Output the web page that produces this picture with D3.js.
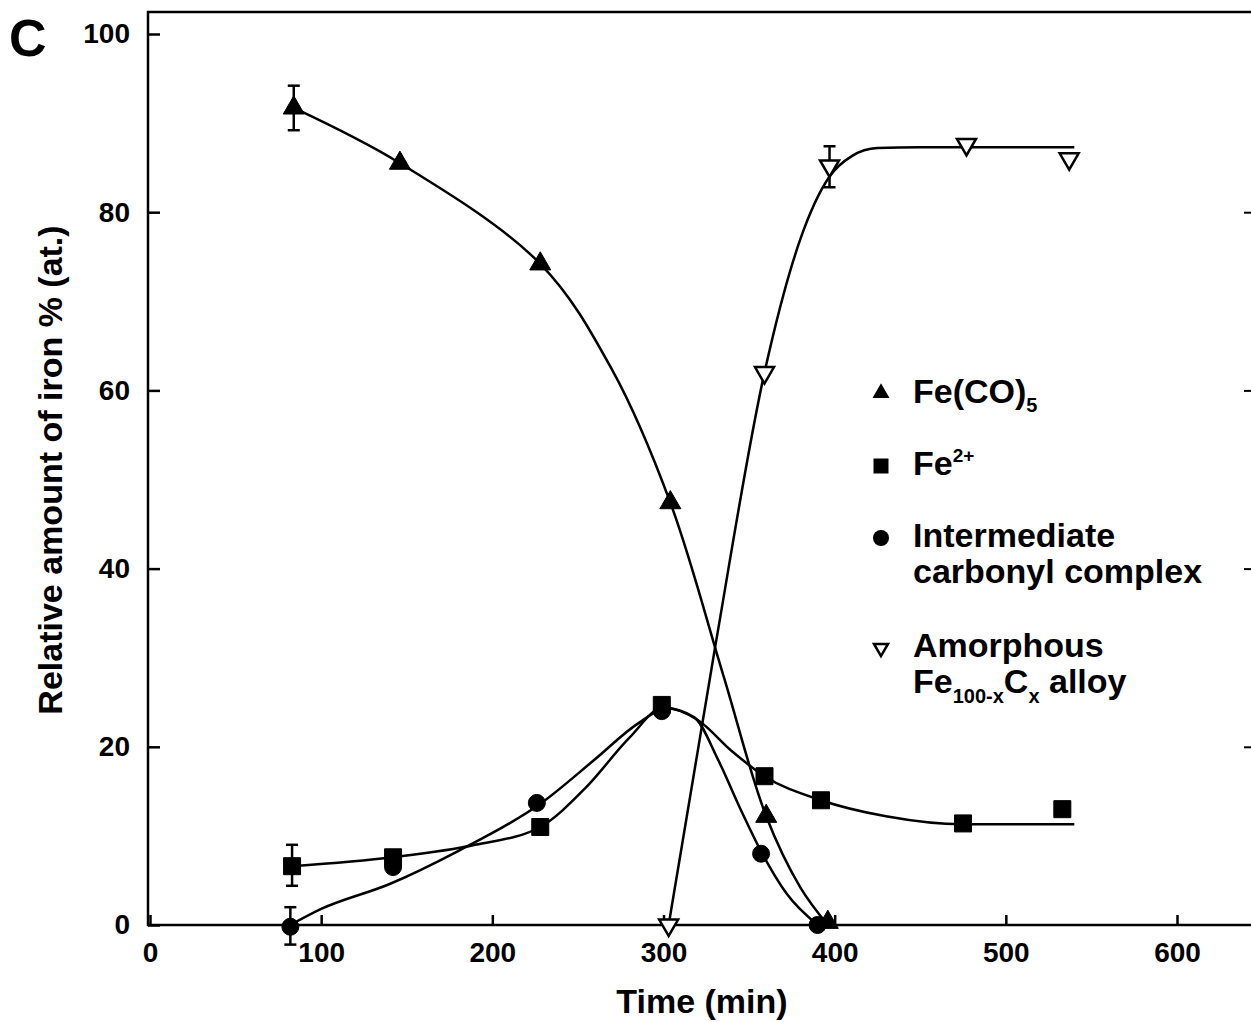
<!DOCTYPE html>
<html>
<head>
    <title>Relative amount of iron</title>
    <script type="text/javascript" src="https://cdn.jsdelivr.net/npm/d3@7"></script>
    <style>
        body { margin: 0; background: white; }
        svg text { font-family: "Liberation Sans", Arial, sans-serif; font-weight: bold; fill: black; }
    </style>
</head>
<body>
<script type="text/javascript">

    // measured points (time in min, amount in %)
    var fecoTime = [84, 146, 228, 304, 360, 396];
    var fecoVal  = [91.7, 85.5, 74.2, 47.4, 12.2, 0.3];

    var fe2Time = [83, 142, 228, 299, 359, 392, 475, 533];
    var fe2Val  = [6.6, 7.6, 11.0, 24.7, 16.7, 14.0, 11.4, 13.0];

    var interTime = [82, 142, 226, 299, 357, 390];
    var interVal  = [-0.2, 6.5, 13.7, 24.0, 8.0, 0];

    var amorTime = [303, 359, 397, 477, 537];
    var amorVal  = [0, 62, 85.2, 87.6, 86.0];

    // error bars [time, low, high]
    var errBars = [
        [84, 89.2, 94.2],
        [83, 4.4, 9.0],
        [82, -2.2, 2.0],
        [397, 82.8, 87.4]
    ];

    // fitted curves as drawn in the figure
    var fecoFitTime = [84, 146, 228, 270, 304, 335, 360, 380, 396];
    var fecoFitVal  = [91.7, 85.5, 74.2, 62.3, 47.4, 28, 12.2, 4.2, 0];

    var fe2FitTime = [83, 142, 190, 228, 255, 280, 300, 320, 340, 359, 392, 430, 475, 540];
    var fe2FitVal  = [6.6, 7.6, 9.0, 11.0, 15.5, 21, 24.4, 23, 19.5, 16.7, 14.0, 12.2, 11.3, 11.3];

    var interFitTime = [82, 100, 140, 180, 228, 260, 285, 302, 318, 332, 345, 358, 372, 390];
    var interFitVal  = [0, 1.8, 4.6, 8.3, 13.6, 18.6, 22.6, 24.3, 23.3, 18.5, 13, 7.9, 3.5, 0];

    var amorFitTime = [303, 330, 359, 380, 397, 410, 425, 450, 540];
    var amorFitVal  = [0, 31, 62, 77, 84, 86.3, 87.2, 87.3, 87.3];

    var xTicks = [0, 100, 200, 300, 400, 500, 600];
    var yTicks = [0, 20, 40, 60, 80, 100];

    var w = 1251;
    var h = 1022;

    var svg = d3.select("body")
            .append("svg")
            .attr("width", w)
            .attr("height", h);

    var x = d3.scaleLinear().domain([0, 600]).range([150, 1177]);
    var y = d3.scaleLinear().domain([0, 100]).range([925, 34]);

    var frameL = 148, frameT = 12, frameR = 1255, frameB = 925;

    // frame (right side falls just outside the picture)
    svg.append("path")
            .attr("d", "M" + frameL + "," + frameB + "V" + frameT + "H" + frameR + "V" + frameB + "Z")
            .attr("fill", "none")
            .attr("stroke", "black")
            .attr("stroke-width", 2.5);

    var xAxis = d3.axisBottom(x)
            .tickValues(xTicks)
            .tickSizeInner(-10)
            .tickSizeOuter(0)
            .tickPadding(17)
            .tickFormat(d3.format("d"));
    var gx = svg.append("g")
            .attr("transform", "translate(0," + frameB + ")")
            .call(xAxis);
    gx.select(".domain").remove();
    gx.selectAll(".tick line").attr("stroke-width", 2.5);
    gx.selectAll(".tick text")
            .attr("font-size", "28px")
            .attr("font-family", null);

    var yAxis = d3.axisLeft(y)
            .tickValues(yTicks)
            .tickSizeInner(-12)
            .tickSizeOuter(0)
            .tickPadding(18)
            .tickFormat(d3.format("d"));
    var gy = svg.append("g")
            .attr("transform", "translate(" + frameL + ",0)")
            .call(yAxis);
    gy.select(".domain").remove();
    gy.selectAll(".tick line").attr("stroke-width", 2.5);
    gy.selectAll(".tick text")
            .attr("font-size", "28px")
            .attr("font-family", null);

    var yAxisR = d3.axisRight(y)
            .tickValues([20, 40, 60, 80])
            .tickSizeInner(-11)
            .tickSizeOuter(0)
            .tickFormat("");
    var gyr = svg.append("g")
            .attr("transform", "translate(" + frameR + ",0)")
            .call(yAxisR);
    gyr.select(".domain").remove();
    gyr.selectAll(".tick line").attr("stroke-width", 2);

    // titles
    svg.append("text")
            .attr("x", 9)
            .attr("y", 56)
            .attr("font-size", "52px")
            .text("C");

    svg.append("text")
            .attr("x", 702)
            .attr("y", 1013)
            .attr("text-anchor", "middle")
            .attr("font-size", "34px")
            .text("Time (min)");

    svg.append("text")
            .attr("transform", "translate(62,470) rotate(-90)")
            .attr("text-anchor", "middle")
            .attr("font-size", "34px")
            .text("Relative amount of iron % (at.)");

    // curves
    function zip(t, v) {
        return t.map(function(d, i) { return [d, v[i]]; });
    }
    var line = d3.line()
            .x(function(d) { return x(d[0]); })
            .y(function(d) { return y(d[1]); })
            .curve(d3.curveMonotoneX);
    var smooth = d3.line()
            .x(function(d) { return x(d[0]); })
            .y(function(d) { return y(d[1]); })
            .curve(d3.curveCatmullRom.alpha(0.5));

    [smooth(zip(fecoFitTime, fecoFitVal)), line(zip(fe2FitTime, fe2FitVal)),
        line(zip(interFitTime, interFitVal)), line(zip(amorFitTime, amorFitVal))].forEach(function(p) {
        svg.append("path")
                .attr("d", p)
                .attr("fill", "none")
                .attr("stroke", "black")
                .attr("stroke-width", 2.5);
    });

    // error bars
    var eb = svg.selectAll("g.err")
            .data(errBars)
            .enter()
            .append("g")
            .attr("class", "err");
    eb.append("line")
            .attr("x1", function(d) { return x(d[0]); })
            .attr("x2", function(d) { return x(d[0]); })
            .attr("y1", function(d) { return y(d[1]); })
            .attr("y2", function(d) { return y(d[2]); })
            .attr("stroke", "black")
            .attr("stroke-width", 2.5);
    [1, 2].forEach(function(k) {
        eb.append("line")
                .attr("x1", function(d) { return x(d[0]) - 6; })
                .attr("x2", function(d) { return x(d[0]) + 6; })
                .attr("y1", function(d) { return y(d[k]); })
                .attr("y2", function(d) { return y(d[k]); })
                .attr("stroke", "black")
                .attr("stroke-width", 2.5);
    });

    // markers
    var sym = {
        tri: d3.symbol().type(d3.symbolTriangle).size(Math.sqrt(3) / 4 * 21 * 21),
        sq: d3.symbol().type(d3.symbolSquare).size(17 * 17),
        circ: d3.symbol().type(d3.symbolCircle).size(Math.PI * 8.5 * 8.5),
        inv: d3.symbol().type(d3.symbolTriangle).size(Math.sqrt(3) / 4 * 19 * 19)
    };

    function drawPoints(t, v, s, open, rot) {
        svg.append("g")
                .selectAll("path")
                .data(zip(t, v))
                .enter()
                .append("path")
                .attr("d", s)
                .attr("transform", function(d) {
                    return "translate(" + x(d[0]) + "," + y(d[1]) + ")" + (rot ? " rotate(180)" : "");
                })
                .attr("fill", open ? "white" : "black")
                .attr("stroke", "black")
                .attr("stroke-width", open ? 2.5 : 1);
    }
    drawPoints(interTime, interVal, sym.circ, false, false);
    drawPoints(fe2Time, fe2Val, sym.sq, false, false);
    drawPoints(fecoTime, fecoVal, sym.tri, false, false);
    drawPoints(amorTime, amorVal, sym.inv, true, true);

    // legend
    var lg = svg.append("g");
    lg.append("path").attr("d", d3.symbol().type(d3.symbolTriangle).size(Math.sqrt(3) / 4 * 17 * 17))
            .attr("transform", "translate(881,393)");
    lg.append("path").attr("d", d3.symbol().type(d3.symbolSquare).size(15 * 15))
            .attr("transform", "translate(881,466)");
    lg.append("path").attr("d", d3.symbol().type(d3.symbolCircle).size(Math.PI * 8 * 8))
            .attr("transform", "translate(881,538)");
    lg.append("path").attr("d", d3.symbol().type(d3.symbolTriangle).size(Math.sqrt(3) / 4 * 14 * 14))
            .attr("transform", "translate(881,648) rotate(180)")
            .attr("fill", "white")
            .attr("stroke", "black")
            .attr("stroke-width", 2.5);

    var t1 = lg.append("text").attr("x", 913).attr("y", 403).attr("font-size", "34px");
    t1.append("tspan").text("Fe(CO)");
    t1.append("tspan").attr("dy", 9).attr("font-size", "20px").text("5");

    var t2 = lg.append("text").attr("x", 913).attr("y", 475).attr("font-size", "34px");
    t2.append("tspan").text("Fe");
    t2.append("tspan").attr("dy", -13).attr("font-size", "19px").text("2+");

    lg.append("text").attr("x", 913).attr("y", 547).attr("font-size", "34px").text("Intermediate");
    lg.append("text").attr("x", 913).attr("y", 583).attr("font-size", "34px").text("carbonyl complex");
    lg.append("text").attr("x", 913).attr("y", 657).attr("font-size", "34px").text("Amorphous");

    var t3 = lg.append("text").attr("x", 913).attr("y", 693).attr("font-size", "34px");
    t3.append("tspan").text("Fe");
    t3.append("tspan").attr("dy", 10).attr("font-size", "20px").text("100-x");
    t3.append("tspan").attr("dy", -10).text("C");
    t3.append("tspan").attr("dy", 10).attr("font-size", "20px").text("x");
    t3.append("tspan").attr("dy", -10).text(" alloy");

</script>
</body>
</html>
